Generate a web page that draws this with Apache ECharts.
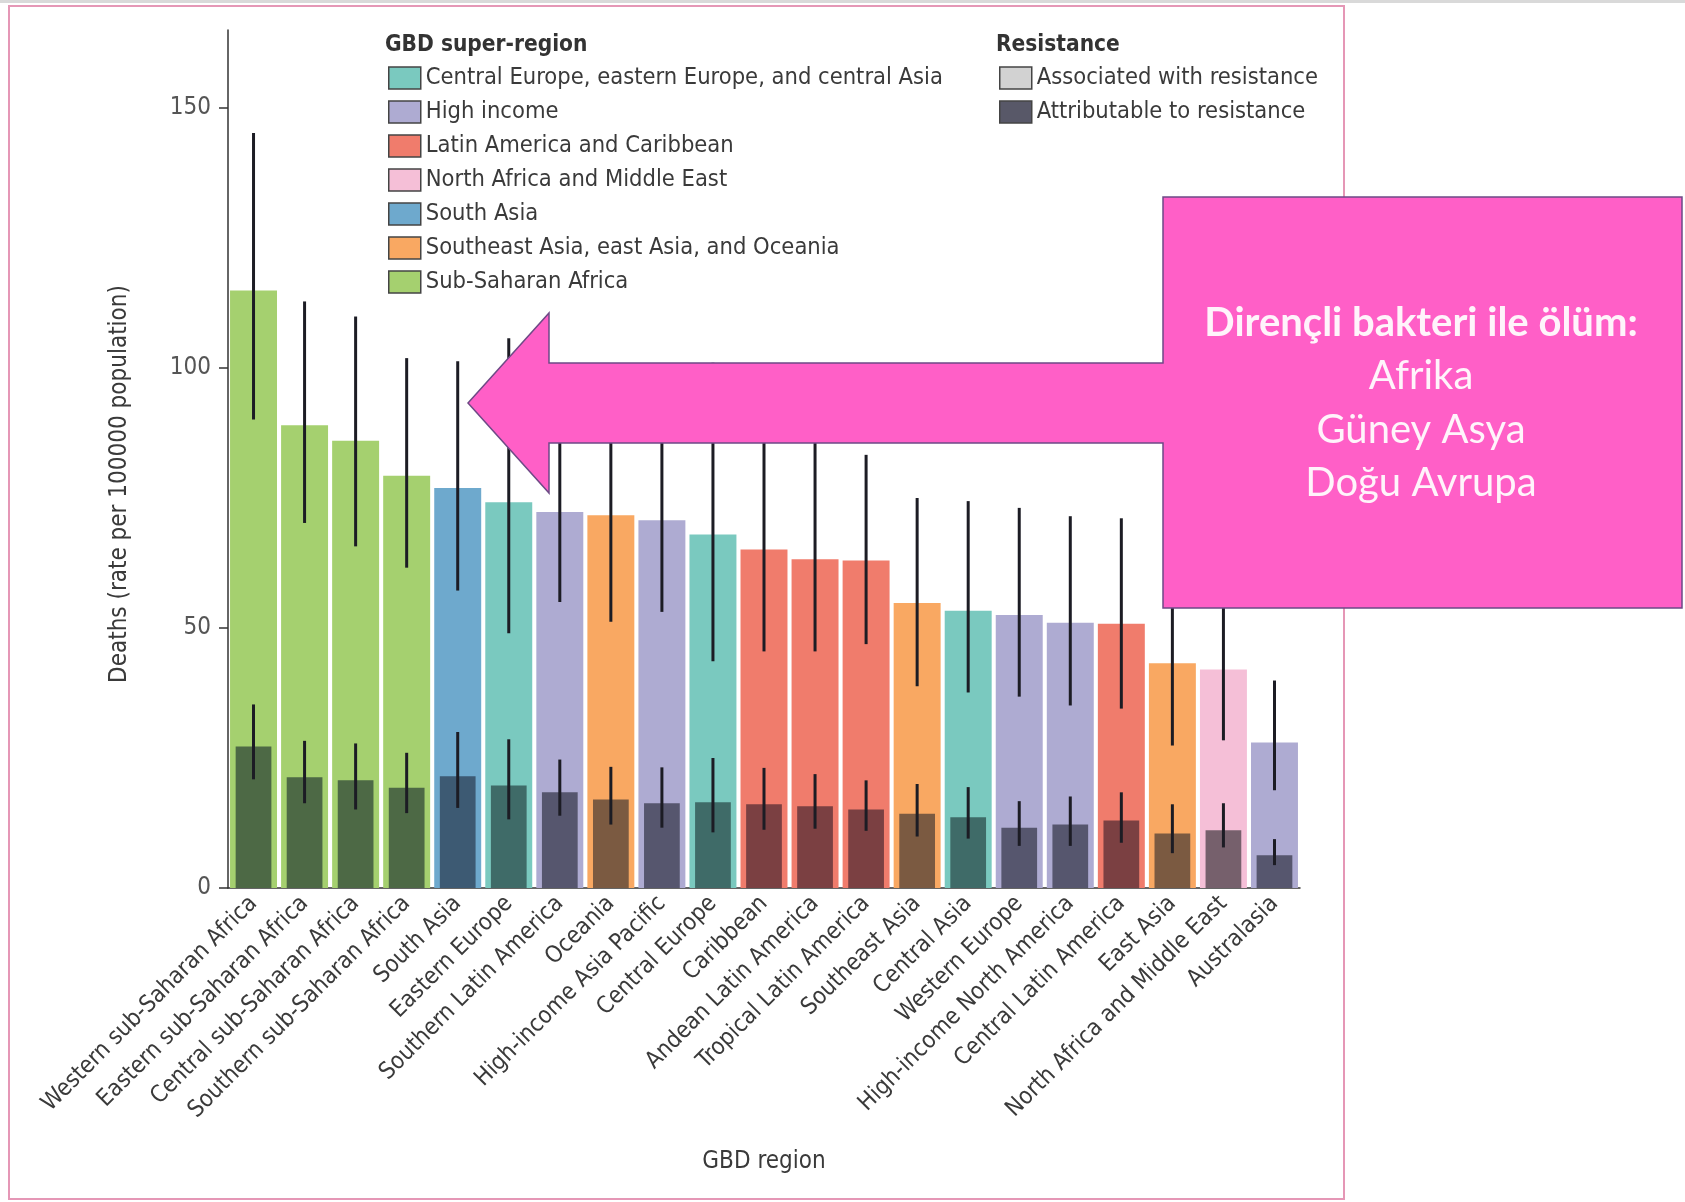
<!DOCTYPE html>
<html>
<head>
<meta charset="utf-8">
<script src="https://cdn.jsdelivr.net/npm/echarts@6/dist/echarts.min.js"></script>
<style>
html,body{margin:0;padding:0;background:#fff;}
#chart{width:1685px;height:1202px;}
</style>
</head>
<body>
<div id="chart"></div>
<script>
// ---------- data ----------
const categories = [
  'Western sub-Saharan Africa','Eastern sub-Saharan Africa','Central sub-Saharan Africa','Southern sub-Saharan Africa',
  'South Asia','Eastern Europe','Southern Latin America','Oceania','High-income Asia Pacific','Central Europe',
  'Caribbean','Andean Latin America','Tropical Latin America','Southeast Asia','Central Asia','Western Europe',
  'High-income North America','Central Latin America','East Asia','North Africa and Middle East','Australasia'
];
const superRegionNames = [
  'Central Europe, eastern Europe, and central Asia','High income','Latin America and Caribbean',
  'North Africa and Middle East','South Asia','Southeast Asia, east Asia, and Oceania','Sub-Saharan Africa'
];
// index into superRegionNames for each category
const categorySuperRegion = [6,6,6,6,4,0,1,5,1,0,2,2,2,5,0,1,1,2,5,3,1];
const associated     = [114.9,89.0,86.0,79.3,76.9,74.2,72.3,71.7,70.7,68.0,65.1,63.2,63.0,54.8,53.3,52.5,51.0,50.8,43.2,42.0,28.0];
const associatedLow  = [90.1,70.2,65.7,61.6,57.2,49.0,55.0,51.2,53.1,43.6,45.5,45.5,46.9,38.8,37.6,36.8,35.1,34.5,27.4,28.4,18.8];
const associatedHigh = [145.2,112.8,109.9,101.9,101.3,105.7,95.0,93.0,92.0,101.0,88.0,88.0,83.3,75.0,74.4,73.1,71.5,71.1,60.0,58.0,39.9];
const attributable     = [27.2,21.3,20.7,19.3,21.5,19.7,18.4,17.0,16.3,16.5,16.1,15.7,15.1,14.3,13.6,11.6,12.2,13.0,10.5,11.1,6.3];
const attributableLow  = [20.9,16.3,15.1,14.4,15.4,13.2,13.9,12.2,11.6,10.7,11.2,11.4,11.0,9.9,9.5,8.1,8.1,8.7,6.7,7.8,4.4];
const attributableHigh = [35.3,28.3,27.8,26.0,30.0,28.6,24.7,23.3,23.2,25.0,23.1,21.9,20.7,20.0,19.4,16.7,17.6,18.4,16.1,16.3,9.4];
const yTicks = [0,50,100,150];
const annotationLines = ['Dirençli bakteri ile ölüm:','Afrika','Güney Asya','Doğu Avrupa'];

// ---------- styles ----------
const lightColors = ['#7ac9bf','#aeabd2','#f07c6c','#f5bfd7','#6ea9cd','#f9a862','#a5d06f'];
const darkColors  = ['#3f6b68','#56566e','#7b4042','#76606c','#3d5a73','#7b5a41','#4d6945'];
const FONT = '"Liberation Sans Narrow","DejaVu Sans Condensed","Roboto Condensed",sans-serif';
const TXT = '#3a3a3a';

const chart = echarts.init(document.getElementById('chart'), null, {renderer:'canvas'});

const legendSeries = superRegionNames.map((n,i)=>({
  name:n, type:'custom', renderItem:()=>null, data:[],
  itemStyle:{color:lightColors[i]}
}));

function errSeries(name, low, high){
  return {
    name:name, type:'custom', z:5, silent:true,
    data: low.map((l,i)=>[i,l,high[i]]),
    renderItem:function(params, api){
      const p1 = api.coord([api.value(0), api.value(1)]);
      const p2 = api.coord([api.value(0), api.value(2)]);
      return {type:'line', shape:{x1:p1[0],y1:p1[1],x2:p2[0],y2:p2[1]},
        style:{stroke:'#1c1c24', lineWidth:3}};
    }
  };
}

// arrow + box outline (annotation)
const arrowPts = [[468,403],[549,313],[549,363],[1163,363],[1163,197],[1682,197],[1682,608],[1163,608],[1163,443],[549,443],[549,493]];
const textY = [323,376,430,483];

const legendText = {fontFamily:FONT,fontSize:23.5,lineHeight:22,color:TXT};

const option = {
  backgroundColor:'#fff',
  animation:false,
  textStyle:{fontFamily:FONT},
  title:[
    {text:'GBD super-region', left:380, top:29, textStyle:{fontFamily:FONT,fontSize:22.5,fontWeight:'bold',color:'#333'}},
    {text:'Resistance', left:991, top:29, textStyle:{fontFamily:FONT,fontSize:22.5,fontWeight:'bold',color:'#333'}}
  ],
  legend:[
    {orient:'vertical', left:383, top:61, itemWidth:32, itemHeight:22, itemGap:10, selectedMode:false,
     icon:'rect', data:superRegionNames,
     itemStyle:{borderColor:'#444', borderWidth:1.5},
     textStyle:legendText},
    {orient:'vertical', left:994, top:61, itemWidth:32, itemHeight:22, itemGap:10, selectedMode:false,
     icon:'rect', data:['Associated with resistance','Attributable to resistance'],
     itemStyle:{borderColor:'#444', borderWidth:1.5},
     textStyle:legendText}
  ],
  grid:{left:228, right:385, top:30, bottom:314, containLabel:false},
  xAxis:[
    {type:'category', data:categories, boundaryGap:true,
     name:'GBD region', nameLocation:'middle', nameGap:262,
     nameTextStyle:{fontFamily:FONT,fontSize:24,color:TXT},
     axisLine:{lineStyle:{color:'#333',width:1.5}},
     axisTick:{length:12, lineStyle:{color:'#333',width:1.5}},
     axisLabel:{rotate:45, interval:0, margin:12, fontFamily:FONT, fontSize:23.5, color:TXT}},
    {type:'category', data:categories, show:false}
  ],
  yAxis:{type:'value', min:0, max:165, interval:50,
     name:'Deaths (rate per 100000 population)', nameLocation:'middle', nameGap:96, nameRotate:90,
     nameTextStyle:{fontFamily:FONT,fontSize:24,color:TXT, padding:[0,50,0,0]},
     splitLine:{show:false},
     axisLine:{show:true, lineStyle:{color:'#333',width:1.5}},
     axisTick:{show:true, length:9, customValues:yTicks, lineStyle:{color:'#333',width:1.5}},
     axisLabel:{customValues:yTicks, margin:17, fontFamily:FONT, fontSize:24, color:'#555',
       formatter:v=> (yTicks.indexOf(v)>=0 ? String(v) : '')}
  },
  series:[
    ...legendSeries,
    {name:'Associated with resistance', type:'bar', xAxisIndex:0, barWidth:'92%', z:2,
     itemStyle:{color:'#d2d2d2'},
     data:associated.map((v,i)=>({value:v, itemStyle:{color:lightColors[categorySuperRegion[i]]}}))},
    {name:'Attributable to resistance', type:'bar', xAxisIndex:1, barWidth:'70%', z:3,
     itemStyle:{color:'#585868'},
     data:attributable.map((v,i)=>({value:v, itemStyle:{color:darkColors[categorySuperRegion[i]]}}))},
    errSeries('assocErr', associatedLow, associatedHigh),
    errSeries('attrErr', attributableLow, attributableHigh)
  ],
  graphic:[
    {type:'rect', z:-10, shape:{x:0,y:0,width:1685,height:3}, style:{fill:'#d9d9d9'}},
    {type:'rect', z:-10, shape:{x:9,y:6,width:1335,height:1193}, style:{fill:'none',stroke:'#e597b6',lineWidth:2}},
    {type:'polygon', z:100, shape:{points:arrowPts}, style:{fill:'#ff5fc7', stroke:'#6e4a86', lineWidth:1.5}},
    ...annotationLines.map((t,i)=>({
      type:'text', z:101,
      style:{text:t, x:1421, y:textY[i], align:'center', verticalAlign:'middle',
        fill:'#fff4fb', font:(i===0?'bold ':'')+'40px Lato, "Open Sans", sans-serif'}
    }))
  ]
};
chart.setOption(option);
</script>
</body>
</html>
